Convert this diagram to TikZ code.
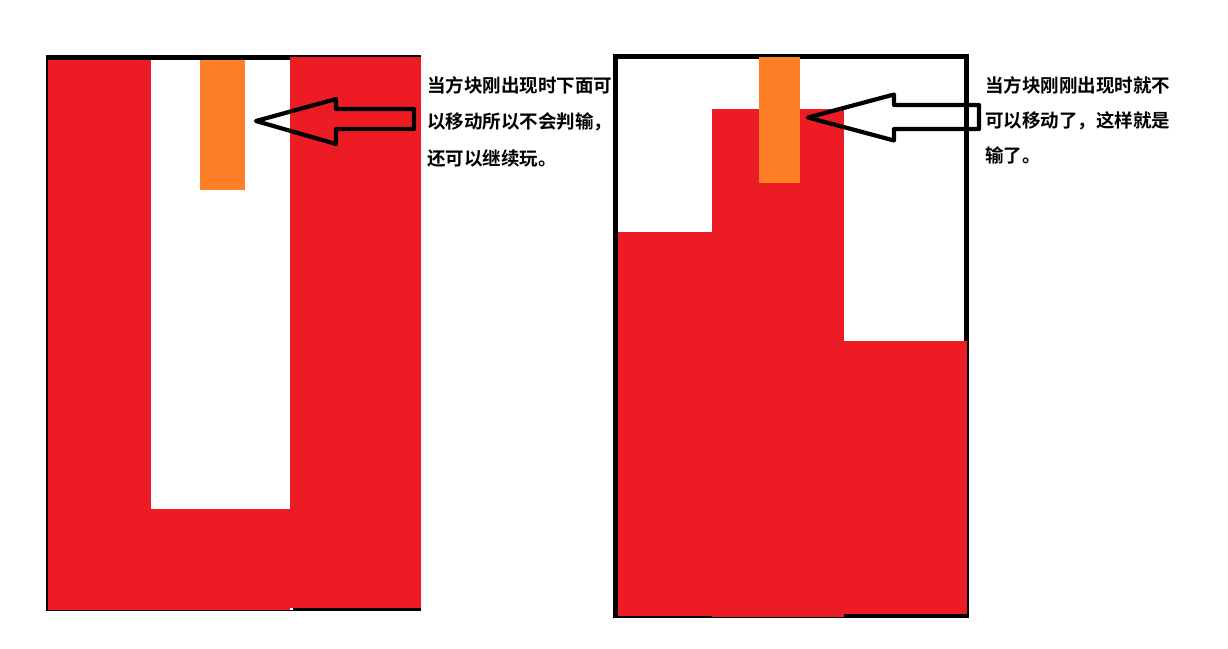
\documentclass[tikz,border=0pt]{standalone}
\usepackage{fontspec}
\newfontfamily\cjk{Noto Sans CJK SC}[BoldFont={Noto Sans CJK SC Bold}]
\definecolor{paintred}{HTML}{ED1C24}
\definecolor{paintorange}{HTML}{FF7F27}
\tikzset{
  redblock/.style={fill=paintred, draw=none},
  orangeblock/.style={fill=paintorange, draw=none},
  blackline/.style={fill=black, draw=none},
  blockarrow/.style={draw=black, line width=4.2pt, line join=round, fill=none},
  frame/.style={draw=black, line width=4.5pt},
  label/.style={font=\cjk\bfseries\fontsize{18.5pt}{22pt}\selectfont, anchor=base west, inner sep=0pt, text=black},
}
\begin{document}
\begin{tikzpicture}[x=1pt, y=-1pt]
\useasboundingbox (0,0) rectangle (1228,648);
% ---------- left panel ----------
\fill[blackline] (46,55) rectangle (421,59.5);
\fill[blackline] (46,55) rectangle (47.5,611);
\fill[blackline] (46,609.5) rectangle (421,611);
\fill[blackline] (293,607.5) rectangle (421,611);
\fill[redblock] (47.5,59.5) rectangle (151,609.5);
\fill[redblock] (290,56.7) rectangle (421,607.5);
\fill[redblock] (151,509) rectangle (290,609.5);
\fill[orangeblock] (200,59.5) rectangle (245,190);
\draw[blockarrow] (256,121) -- (336,99) -- (336,109) -- (414,109) -- (414,129) -- (336,129) -- (336,144) -- cycle;
\node[label] (la) at (427,92) {当方块刚出现时下面可};
\node[label] (lb) at (427,128.5) {以移动所以不会判输，};
\node[label] (lc) at (427,165) {还可以继续玩。};
% ---------- right panel ----------
\draw[frame] (615.5,56.7) rectangle (966.3,615.8);
\fill[redblock] (617.7,232) rectangle (712.5,615.5);
\fill[redblock] (712,109) rectangle (844,617);
\fill[redblock] (843,341) rectangle (967,614);
\fill[orangeblock] (759,56.7) rectangle (800,182.7);
\draw[blockarrow] (808,117.5) -- (894,94.5) -- (894,105) -- (979,105) -- (979,129) -- (894,129) -- (894,140.5) -- cycle;
\node[label] (ra) at (985,92) {当方块刚刚出现时就不};
\node[label] (rb) at (985,127) {可以移动了，这样就是};
\node[label] (rc) at (985,162) {输了。};
\end{tikzpicture}
\end{document}
